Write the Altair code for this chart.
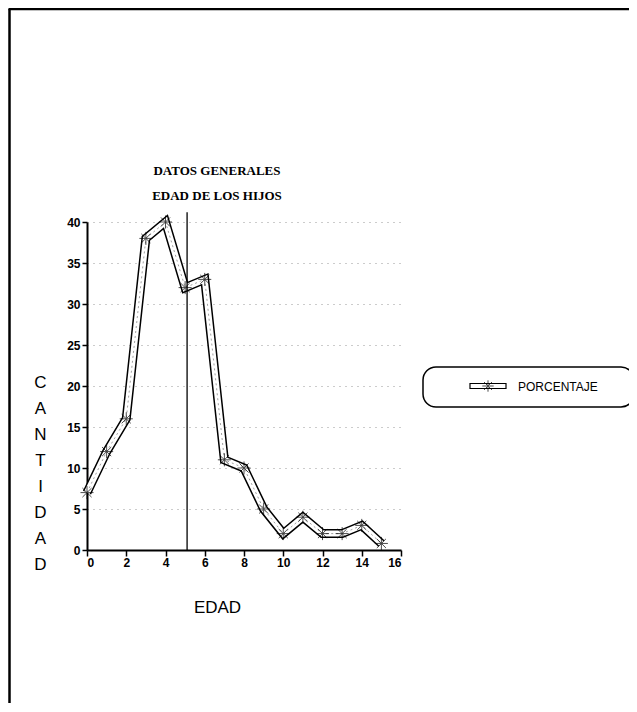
import altair as alt
import pandas as pd

edad = [0, 1, 2, 3, 4, 5, 6, 7, 8, 9, 10, 11, 12, 13, 14, 15]
cantidad = [7, 12, 16, 38, 40, 32, 33, 11, 10, 5, 2, 4, 2, 2, 3, 0.8]
x_ticks = [0, 2, 4, 6, 8, 10, 12, 14, 16]
y_ticks = [0, 5, 10, 15, 20, 25, 30, 35, 40]
ylabel = ["C", "A", "N", "T", "I", "D", "A", "D"]
title_lines = ["DATOS GENERALES", "EDAD DE LOS HIJOS"]
legend_label = "PORCENTAJE"
vline_x = [5.1]
vline_top = [41.2]

df = pd.DataFrame({"edad": edad, "cantidad": cantidad})
vdf = pd.DataFrame({"edad": vline_x, "cantidad": [0], "cantidad2": vline_top})
one = pd.DataFrame({"a": [0]})

W, H = 314, 328
FONT = "Liberation Sans"

X = alt.X("edad:Q", scale=alt.Scale(domain=[0, 16], nice=False, zero=True),
          axis=alt.Axis(values=x_ticks, title="EDAD", grid=False, domainWidth=2,
                        domainColor="black", tickColor="black", tickWidth=1.5, tickSize=6,
                        labelFont=FONT, labelFontSize=12, labelFontWeight="bold",
                        labelColor="black", labelPadding=1,
                        titleFont=FONT, titleFontSize=17, titleFontWeight="normal",
                        titleColor="black", titleX=130, titleY=62,
                        titleBaseline="alphabetic"))
Y = alt.Y("cantidad:Q", scale=alt.Scale(domain=[0, 40], nice=False, zero=True),
          axis=alt.Axis(values=y_ticks, title=ylabel, titleAngle=0, titleX=-47, titleY=152,
                        titleAlign="center", titleBaseline="top", titleLineHeight=26,
                        titleFont=FONT, titleFontSize=17, titleFontWeight="normal",
                        titleColor="black",
                        grid=True, gridColor="#999", gridDash=[1, 5], gridWidth=1,
                        domainWidth=2, domainColor="black", tickColor="black",
                        tickWidth=1.5, tickSize=5,
                        labelFont=FONT, labelFontSize=12, labelFontWeight="bold",
                        labelColor="black", labelPadding=2))

base = alt.Chart(df).encode(x=X, y=Y)
outer = base.mark_line(color="black", strokeWidth=9)
inner = base.mark_line(color="white", strokeWidth=6)
center = base.mark_line(color="#777", strokeWidth=0.7, strokeDash=[2, 3])
star = "M-1,0L1,0M0,-1L0,1M-0.7,-0.7L0.7,0.7M-0.7,0.7L0.7,-0.7"
stars = base.mark_point(shape=star, size=170, color="black", strokeWidth=1, filled=False)

vline = alt.Chart(vdf).mark_rule(color="black", strokeWidth=1.3).encode(
    x=X, y=Y, y2="cantidad2:Q")

deco = alt.Chart(one)
t1 = deco.mark_text(font="Liberation Serif", fontSize=13, fontWeight="bold",
                    align="center", baseline="middle", color="black").encode(
    x=alt.value(130), y=alt.value(-51), text=alt.value(title_lines[0]))
t2 = deco.mark_text(font="Liberation Serif", fontSize=13, fontWeight="bold",
                    align="center", baseline="middle", color="black").encode(
    x=alt.value(130), y=alt.value(-26), text=alt.value(title_lines[1]))

frame_l = deco.mark_rule(color="black", strokeWidth=2.5).encode(
    x=alt.value(-77.5), y=alt.value(-213), y2=alt.value(500))
frame_t = deco.mark_rule(color="black", strokeWidth=2.5).encode(
    x=alt.value(-78.5), x2=alt.value(560), y=alt.value(-213))

leg_box = deco.mark_rect(fill="white", stroke="black", strokeWidth=1.5,
                         cornerRadius=13).encode(
    x=alt.value(336), x2=alt.value(547), y=alt.value(145), y2=alt.value(185))
leg_sym = deco.mark_rect(fill="white", stroke="black", strokeWidth=1.2).encode(
    x=alt.value(383), x2=alt.value(419), y=alt.value(161.5), y2=alt.value(166.5))
leg_star = deco.mark_point(shape=star, size=130, color="black", strokeWidth=1,
                           filled=False).encode(x=alt.value(401), y=alt.value(164))
leg_text = deco.mark_text(font=FONT, fontSize=12, align="left", baseline="middle",
                          color="black").encode(
    x=alt.value(431), y=alt.value(165), text=alt.value(legend_label))

chart = alt.layer(
    frame_l, frame_t, outer, inner, center, vline, stars, t1, t2,
    leg_box, leg_sym, leg_star, leg_text
).properties(
    width=W, height=H,
    autosize=alt.AutoSizeParams(type="none"),
    padding={"left": 79, "top": 214, "right": 228, "bottom": 153},
    background="white",
).configure_view(stroke=None)

chart.save("out.html", embed_options={"renderer": "svg", "actions": False})
